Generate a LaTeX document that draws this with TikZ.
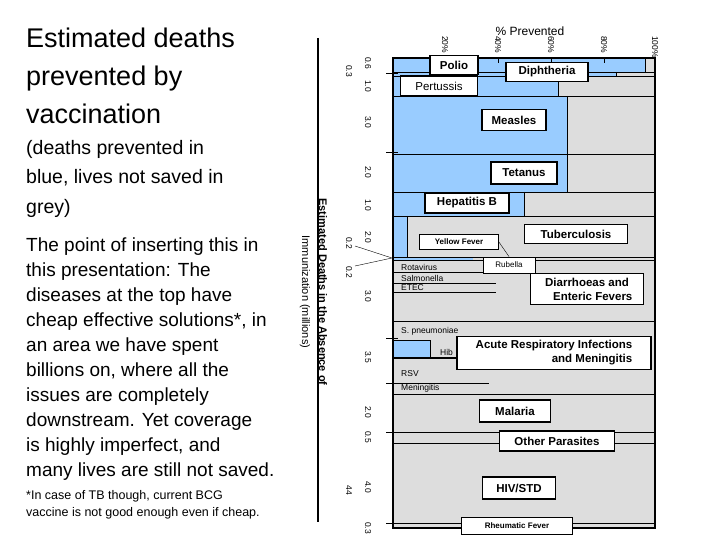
\documentclass[tikz,border=0pt]{standalone}
\usepackage{fontspec}
\setmainfont{Liberation Sans}
\begin{document}
\begin{tikzpicture}[x=1pt,y=-1pt,
  bl/.style={fill={rgb,255:red,153;green,204;blue,255}},
  gr/.style={fill={rgb,255:red,221;green,221;blue,221}},
  lab/.style={draw=black,line width=1.2pt,fill=white,font=\bfseries\fontsize{11.5}{14}\selectfont,inner xsep=6pt,inner ysep=4pt,minimum height=21pt},
  sm/.style={font=\fontsize{8.5}{9}\selectfont,anchor=west,inner sep=0pt},
  num/.style={rotate=-90,font=\fontsize{8.5}{9}\selectfont,inner sep=0pt},
  txt/.style={anchor=north west,align=left,inner sep=0pt}]
\useasboundingbox (0,0) rectangle (720,540);
% left text
\node[txt,font=\fontsize{27}{38}\selectfont] (t1) at (26,28) {Estimated deaths\\prevented by\\vaccination};
\node[txt,font=\fontsize{19.5}{29.5}\selectfont] (t2) at (26,140) {(deaths prevented in\\blue, lives not saved in\\grey)};
\node[txt,font=\fontsize{19}{25}\selectfont] (t3) at (26,238) {The point of inserting this in\\this presentation: The\\diseases at the top have\\cheap effective solutions*, in\\an area we have spent\\billions on, where all the\\issues are completely\\downstream. Yet coverage\\is highly imperfect, and\\many lives are still not saved.};
\node[txt,font=\fontsize{12.5}{17}\selectfont] (t4) at (26,490) {*In case of TB though, current BCG\\vaccine is not good enough even if cheap.};
% rows
\fill[gr] (393,58) rectangle (655,528);
\fill[bl] (393,58) rectangle (645,72);
\fill[bl] (393,72) rectangle (616,76);
\fill[bl] (393,76) rectangle (558,96);
\fill[bl] (393,96) rectangle (567,192);
\fill[bl] (393,192) rectangle (524,216);
\fill[bl] (393,216) rectangle (407,257);
\fill[bl] (393,257) rectangle (473,260);
\fill[bl] (393,340) rectangle (430,358);
\draw (393,340) rectangle (430,358);
\draw[line width=1.4pt] (393,58) rectangle (655,528);
\foreach \y in {72,76,96,154,192,216,257,260,321,394,432,443,523}
  \draw (393,\y) -- (655,\y);
\draw (616,72)--(616,76) (558,76)--(558,96) (567,96)--(567,192) (524,192)--(524,216) (407,216)--(407,257) (645,58)--(645,72);
\draw[line width=1.4pt] (393,358)--(460,358);
\draw (393,383)--(489,383);
\foreach \y in {272,283,292} \draw (393,\y)--(496,\y);
% top axis
\node[font=\fontsize{12}{13}\selectfont] (pp) at (530,31) {\% Prevented};
\foreach \p/\x in {20/445,40/498,60/551,80/604,100/655} {
  \node[num,anchor=west] (p\p) at (\x,36) {\p\%};
  \draw (\x,58)--(\x,63);
}
% small labels
\node[sm] (rv) at (401,267) {Rotavirus};
\node[sm] (sa) at (401,278) {Salmonella};
\node[sm] (et) at (401,288) {ETEC};
\node[sm] (sp) at (401,331) {S. pneumoniae};
\node[sm] (hib) at (440,352) {Hib};
\node[sm] (rsv) at (401,374) {RSV};
\node[sm] (men) at (401,388) {Meningitis};
% label boxes
\node[lab,minimum width=48pt,minimum height=19pt] (polio) at (454,65) {Polio};
\node[lab,minimum width=82pt,minimum height=18pt] (diph) at (547,72) {Diphtheria};
\node[lab,font=\fontsize{11.5}{13}\selectfont,minimum width=77pt,minimum height=20pt] (pert) at (439,86) {Pertussis};
\node[lab,minimum width=64pt] (meas) at (514,120) {Measles};
\node[lab,minimum width=66pt,minimum height=22pt] (tet) at (524,173) {Tetanus};
\node[lab,minimum width=84pt,minimum height=20pt] (hepb) at (467,203) {Hepatitis B};
\node[lab,minimum width=103pt,minimum height=19pt] (tb) at (576,234) {Tuberculosis};
\node[lab,font=\bfseries\fontsize{8}{9}\selectfont,line width=0.8pt,minimum width=79pt,minimum height=15pt] (yf) at (459,242) {Yellow Fever};
\node[lab,font=\fontsize{8}{9}\selectfont,line width=0.8pt,minimum width=52pt,minimum height=16pt] (rub) at (509,265) {Rubella};
\draw (yf.east) -- (rub.north);
\node[lab,align=center,minimum width=113pt] (diar) at (587,289) {Diarrhoeas and\\\hspace*{1em}Enteric Fevers};
\node[lab,align=right,minimum width=194pt] (ari) at (554,353) {Acute Respiratory Infections\\and Meningitis};
\node[lab,minimum width=71pt,minimum height=22pt] (mal) at (515,411) {Malaria};
\node[lab,minimum width=115pt,minimum height=20pt] (op) at (557,441) {Other Parasites};
\node[lab,minimum width=73pt,minimum height=22pt] (hiv) at (519,488) {HIV/STD};
\node[lab,font=\bfseries\fontsize{8}{9}\selectfont,line width=0.8pt,minimum width=111pt,minimum height=17pt] (rf) at (517,526) {Rheumatic Fever};
% left axis
\draw[line width=1.2pt] (318,38)--(318,522);
\node[rotate=-90,font=\bfseries\fontsize{11}{12}\selectfont] (ax1) at (323,292) {Estimated Deaths in the Absence of};
\node[rotate=-90,font=\fontsize{11}{12}\selectfont] (ax2) at (305,292) {Immunization (millions)};
\foreach \v/\y in {0.6/63,1.0/86,3.0/122,2.0/172,1.0/205,2.0/237,3.0/296,3.5/357,2.0/412,0.5/437,4.0/487,0.3/528}
  \node[num] at (368,\y) {\v};
\foreach \v/\y in {0.3/71,0.2/243,0.2/272,44/490}
  \node[num] at (349,\y) {\v};
\foreach \y in {73,152,338,383,432,523} \draw (386,\y)--(398,\y);
\draw (355,246)--(392,258) (355,266)--(392,258);
\end{tikzpicture}
\end{document}
